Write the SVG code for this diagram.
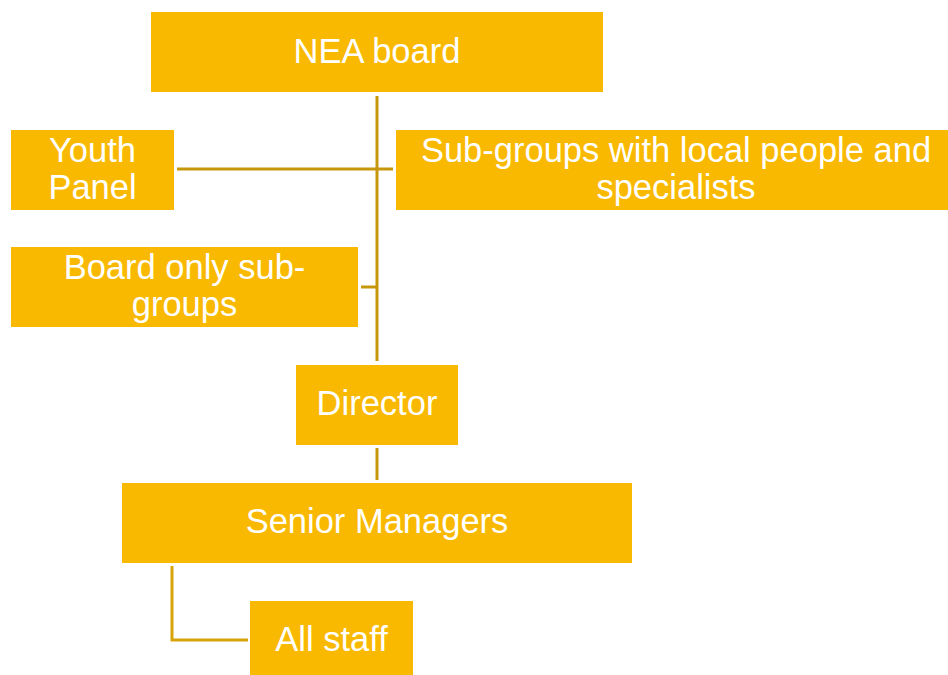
<svg xmlns="http://www.w3.org/2000/svg" width="948" height="675" viewBox="0 0 948 675">
<style>
.box{fill:#F9B900;}
.t{font-family:"Liberation Sans","Arial",sans-serif;font-size:34.5px;fill:#FFFFFF;text-anchor:middle;}
.c{stroke:#C8960C;stroke-width:3;fill:none;}
</style>
<rect width="948" height="675" fill="#FFFFFF"/>
<g id="connectors">
<line class="c" x1="377" y1="96" x2="377" y2="361"/>
<line class="c" x1="177" y1="169" x2="393" y2="169"/>
<line class="c" x1="361" y1="287" x2="377" y2="287"/>
<line class="c" x1="377" y1="448" x2="377" y2="480"/>
<polyline class="c" points="172,566 172,640 248,640" style="stroke:#D9A30A"/>
</g>
<g id="nea-board"><rect class="box" x="151" y="12" width="452" height="80"/><text class="t" x="377" y="63">NEA board</text></g>
<g id="youth-panel"><rect class="box" x="11" y="130" width="163" height="80"/><text class="t" x="92.5" y="162">Youth</text><text class="t" x="92.5" y="199">Panel</text></g>
<g id="sub-groups"><rect class="box" x="396" y="130" width="552" height="80"/><text class="t" x="676" y="162">Sub-groups with local people and</text><text class="t" x="676" y="199">specialists</text></g>
<g id="board-only"><rect class="box" x="11" y="247" width="347" height="80"/><text class="t" x="184.5" y="279">Board only sub-</text><text class="t" x="184.5" y="316">groups</text></g>
<g id="director"><rect class="box" x="296" y="365" width="162" height="80"/><text class="t" x="377" y="415">Director</text></g>
<g id="senior-managers"><rect class="box" x="122" y="483" width="510" height="80"/><text class="t" x="377" y="533">Senior Managers</text></g>
<g id="all-staff"><rect class="box" x="250" y="601" width="163" height="80"/><text class="t" x="331.5" y="651">All staff</text></g>
</svg>
